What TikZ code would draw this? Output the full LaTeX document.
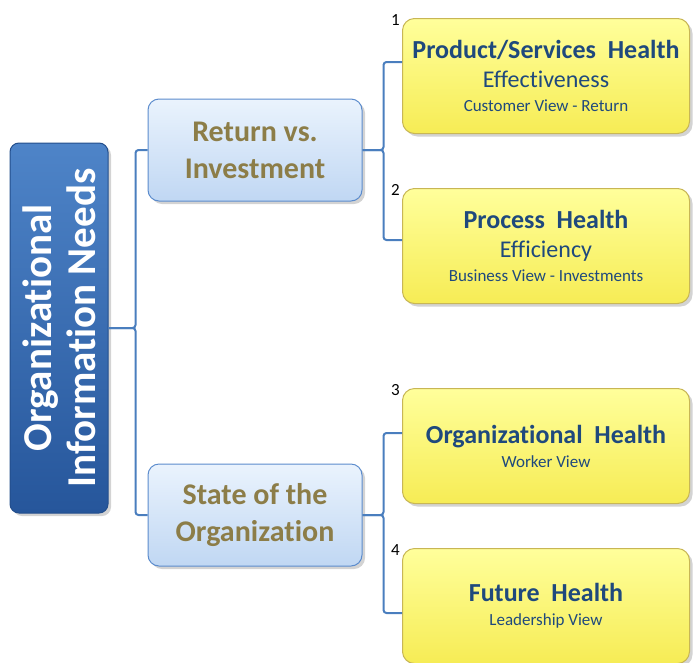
\documentclass[tikz,border=0pt]{standalone}
\usepackage{fontspec}
\setmainfont{Carlito}[Ligatures=NoCommon]
\usetikzlibrary{shadows}

\definecolor{linkblue}{RGB}{74,126,190}
\definecolor{roottop}{RGB}{78,132,200}
\definecolor{rootbot}{RGB}{38,86,155}
\definecolor{rootedge}{RGB}{35,78,140}
\definecolor{topictop}{RGB}{234,243,253}
\definecolor{topicbot}{RGB}{192,215,243}
\definecolor{topicedge}{RGB}{92,140,205}
\definecolor{topictext}{RGB}{140,125,72}
\definecolor{healthtop}{RGB}{255,255,155}
\definecolor{healthbot}{RGB}{246,236,85}
\definecolor{healthedge}{RGB}{200,182,85}
\definecolor{healthtext}{RGB}{31,73,125}

\begin{document}
\begin{tikzpicture}[x=1pt,y=-1pt,
    boxshadow/.style={drop shadow={shadow xshift=3pt,shadow yshift=-3pt,opacity=.35}},
    rootbox/.style={draw=rootedge,line width=1pt,rounded corners=9pt,
        top color=roottop,bottom color=rootbot,boxshadow,rotate=90,
        minimum width=370pt,minimum height=98pt,align=center,text=white,
        font=\fontsize{41}{44}\selectfont\bfseries},
    topic/.style={draw=topicedge,line width=1pt,rounded corners=11pt,
        top color=topictop,bottom color=topicbot,boxshadow,
        minimum width=214pt,minimum height=102pt,align=center,text=topictext,
        font=\fontsize{30}{37}\selectfont\bfseries},
    health/.style={draw=healthedge,line width=1pt,rounded corners=12pt,
        top color=healthtop,bottom color=healthbot,boxshadow,
        minimum width=287pt,minimum height=115pt,align=center,text=healthtext,
        font=\fontsize{20}{24}\selectfont},
    num/.style={anchor=base east,inner sep=2pt,font=\fontsize{17}{17}\selectfont},
    link/.style={draw=linkblue,line width=2pt,rounded corners=3pt}]
\useasboundingbox (0,0) rectangle (693,662);

% root and the two topics
\node[rootbox] (root) at (59,328) {Organizational\\Information Needs};
\node[topic] (ret) at (255,150) {Return vs.\\Investment};
\node[topic] (state) at (255,515) {State of the\\Organization};

% health boxes
\node[health] (p1) at (546,76)
    {{\fontsize{26}{30}\selectfont\bfseries Product/Services\ \ Health}\\[5pt]
     {\fontsize{24}{24}\selectfont Effectiveness}\\
     {\fontsize{17}{20}\selectfont Customer View - Return}};
\node[health] (p2) at (546,246)
    {{\fontsize{26}{30}\selectfont\bfseries Process\ \ Health}\\[5pt]
     {\fontsize{24}{24}\selectfont Efficiency}\\
     {\fontsize{17}{20}\selectfont Business View - Investments}};
\node[health] (p3) at (546,446)
    {{\fontsize{26}{30}\selectfont\bfseries Organizational\ \ Health}\\
     {\fontsize{17}{20}\selectfont Worker View}};
\node[health] (p4) at (546,606)
    {{\fontsize{26}{30}\selectfont\bfseries Future\ \ Health}\\
     {\fontsize{17}{20}\selectfont Leadership View}};

\node[num] (n1) at ([yshift=-7pt]p1.north west) {1};
\node[num] (n2) at ([yshift=-7pt]p2.north west) {2};
\node[num] (n3) at ([yshift=-7pt]p3.north west) {3};
\node[num] (n4) at ([yshift=-7pt]p4.north west) {4};

% brackets
\draw[link] (root.south) -- ++(27,0) |- (ret.west);
\draw[link] (root.south) -- ++(27,0) |- (state.west);
\draw[link] (ret.east) -- ++(21,0) |- ([yshift=14pt]p1.west);
\draw[link] (ret.east) -- ++(21,0) |- ([yshift=6pt]p2.west);
\draw[link] (state.east) -- ++(21,0) |- ([yshift=13pt]p3.west);
\draw[link] (state.east) -- ++(21,0) |- ([yshift=-7pt]p4.west);
\end{tikzpicture}
\end{document}
